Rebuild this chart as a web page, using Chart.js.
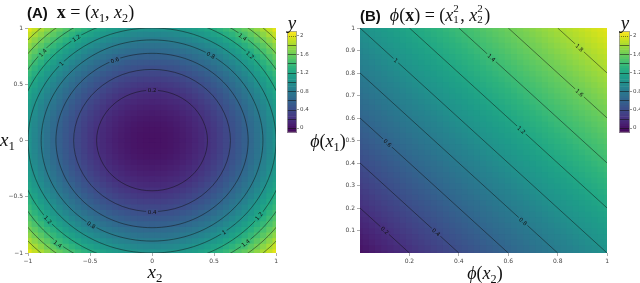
<!DOCTYPE html>
<html>
<head>
<meta charset="utf-8">
<script src="https://cdn.jsdelivr.net/npm/chart.js@4.4.1/dist/chart.umd.min.js"></script>
<style>
body { margin: 0; background: #fff; }
#wrap { position: relative; width: 640px; height: 283px; overflow: hidden; }
canvas { position: absolute; top: 0; }
.lbl { position: absolute; white-space: nowrap; font-family: 'Liberation Serif', 'DejaVu Serif', serif; line-height: 1; color: #111; }
.lbl i { font-style: italic; }
.lbl .s { font-size: 0.68em; position: relative; top: 0.3em; }
.lbl .ss { display: inline-block; position: relative; width: 7px; height: 1em; }
.lbl .ss span { position: absolute; left: 0; font-size: 11px; line-height: 1; }
.lbl .ss .u { top: 0px; }
.lbl .ss .d { top: 11px; }
.lbl .pan { font-family: 'Liberation Sans', sans-serif; font-weight: bold; font-size: 15px; }
.c { transform: translate(-50%, -50%); }
</style>
</head>
<body>
<div id="wrap">
  <canvas id="heatA" width="280" height="283" style="left:0"></canvas>
  <canvas id="barA" width="40" height="137" style="left:287px"></canvas>
  <canvas id="heatB" width="281" height="283" style="left:330px"></canvas>
  <canvas id="barB" width="21" height="137" style="left:619px"></canvas>

  <div class="lbl" style="left:27px;top:3px;font-size:18px"><span class="pan">(A)</span>&nbsp; <b>x</b> = (<i>x</i><span class="s">1</span>, <i>x</i><span class="s">2</span>)</div>
  <div class="lbl" style="left:360px;top:3px;font-size:18px"><span class="pan">(B)</span>&nbsp; <i>ϕ</i>(<b>x</b>) = (<i>x</i><span class="ss"><span class="u">2</span><span class="d">1</span></span>, <i>x</i><span class="ss"><span class="u">2</span><span class="d">2</span></span>)</div>
  <div class="lbl c" style="left:155px;top:271px;font-size:19px"><i>x</i><span class="s">2</span></div>
  <div class="lbl" style="left:0px;top:130px;font-size:19px"><i>x</i><span class="s">1</span></div>
  <div class="lbl c" style="left:485px;top:273px;font-size:18px"><i>ϕ</i>(<i>x</i><span class="s">2</span>)</div>
  <div class="lbl c" style="left:328px;top:141px;font-size:18px"><i>ϕ</i>(<i>x</i><span class="s">1</span>)</div>
  <div class="lbl c" style="left:292px;top:22px;font-size:19px"><i>y</i></div>
  <div class="lbl c" style="left:625px;top:22px;font-size:19px"><i>y</i></div>
</div>
<script>
// ---- data ----

// panel A: one quadrant of the grid, |x1| by row, |x2| by column (mirrored to the other three)
const gridA = [0, 0.05, 0.1, 0.15, 0.2, 0.25, 0.3, 0.35, 0.4, 0.45, 0.5, 0.55, 0.6, 0.65, 0.7, 0.75, 0.8, 0.85, 0.9, 0.95, 1];
const quadA = [
  [0, .0025, .01, .0225, .04, .0625, .09, .1225, .16, .2025, .25, .3025, .36, .4225, .49, .5625, .64, .7225, .81, .9025, 1],
  [.0025, .005, .0125, .025, .0425, .065, .0925, .125, .1625, .205, .2525, .305, .3625, .425, .4925, .565, .6425, .725, .8125, .905, 1.0025],
  [.01, .0125, .02, .0325, .05, .0725, .1, .1325, .17, .2125, .26, .3125, .37, .4325, .5, .5725, .65, .7325, .82, .9125, 1.01],
  [.0225, .025, .0325, .045, .0625, .085, .1125, .145, .1825, .225, .2725, .325, .3825, .445, .5125, .585, .6625, .745, .8325, .925, 1.0225],
  [.04, .0425, .05, .0625, .08, .1025, .13, .1625, .2, .2425, .29, .3425, .4, .4625, .53, .6025, .68, .7625, .85, .9425, 1.04],
  [.0625, .065, .0725, .085, .1025, .125, .1525, .185, .2225, .265, .3125, .365, .4225, .485, .5525, .625, .7025, .785, .8725, .965, 1.0625],
  [.09, .0925, .1, .1125, .13, .1525, .18, .2125, .25, .2925, .34, .3925, .45, .5125, .58, .6525, .73, .8125, .9, .9925, 1.09],
  [.1225, .125, .1325, .145, .1625, .185, .2125, .245, .2825, .325, .3725, .425, .4825, .545, .6125, .685, .7625, .845, .9325, 1.025, 1.1225],
  [.16, .1625, .17, .1825, .2, .2225, .25, .2825, .32, .3625, .41, .4625, .52, .5825, .65, .7225, .8, .8825, .97, 1.0625, 1.16],
  [.2025, .205, .2125, .225, .2425, .265, .2925, .325, .3625, .405, .4525, .505, .5625, .625, .6925, .765, .8425, .925, 1.0125, 1.105, 1.2025],
  [.25, .2525, .26, .2725, .29, .3125, .34, .3725, .41, .4525, .5, .5525, .61, .6725, .74, .8125, .89, .9725, 1.06, 1.1525, 1.25],
  [.3025, .305, .3125, .325, .3425, .365, .3925, .425, .4625, .505, .5525, .605, .6625, .725, .7925, .865, .9425, 1.025, 1.1125, 1.205, 1.3025],
  [.36, .3625, .37, .3825, .4, .4225, .45, .4825, .52, .5625, .61, .6625, .72, .7825, .85, .9225, 1, 1.0825, 1.17, 1.2625, 1.36],
  [.4225, .425, .4325, .445, .4625, .485, .5125, .545, .5825, .625, .6725, .725, .7825, .845, .9125, .985, 1.0625, 1.145, 1.2325, 1.325, 1.4225],
  [.49, .4925, .5, .5125, .53, .5525, .58, .6125, .65, .6925, .74, .7925, .85, .9125, .98, 1.0525, 1.13, 1.2125, 1.3, 1.3925, 1.49],
  [.5625, .565, .5725, .585, .6025, .625, .6525, .685, .7225, .765, .8125, .865, .9225, .985, 1.0525, 1.125, 1.2025, 1.285, 1.3725, 1.465, 1.5625],
  [.64, .6425, .65, .6625, .68, .7025, .73, .7625, .8, .8425, .89, .9425, 1, 1.0625, 1.13, 1.2025, 1.28, 1.3625, 1.45, 1.5425, 1.64],
  [.7225, .725, .7325, .745, .7625, .785, .8125, .845, .8825, .925, .9725, 1.025, 1.0825, 1.145, 1.2125, 1.285, 1.3625, 1.445, 1.5325, 1.625, 1.7225],
  [.81, .8125, .82, .8325, .85, .8725, .9, .9325, .97, 1.0125, 1.06, 1.1125, 1.17, 1.2325, 1.3, 1.3725, 1.45, 1.5325, 1.62, 1.7125, 1.81],
  [.9025, .905, .9125, .925, .9425, .965, .9925, 1.025, 1.0625, 1.105, 1.1525, 1.205, 1.2625, 1.325, 1.3925, 1.465, 1.5425, 1.625, 1.7125, 1.805, 1.9025],
  [1, 1.0025, 1.01, 1.0225, 1.04, 1.0625, 1.09, 1.1225, 1.16, 1.2025, 1.25, 1.3025, 1.36, 1.4225, 1.49, 1.5625, 1.64, 1.7225, 1.81, 1.9025, 2]
];

// panel B: rows are phi(x1), columns are phi(x2)
const gridB = [0, .025, .05, .075, .1, .125, .15, .175, .2, .225, .25, .275, .3, .325, .35, .375, .4, .425, .45, .475, .5,
  .525, .55, .575, .6, .625, .65, .675, .7, .725, .75, .775, .8, .825, .85, .875, .9, .925, .95, .975, 1];
const valuesB = [
  [0, .025, .05, .075, .1, .125, .15, .175, .2, .225, .25, .275, .3, .325, .35, .375, .4, .425, .45, .475, .5, .525, .55, .575, .6, .625, .65, .675, .7, .725, .75, .775, .8, .825, .85, .875, .9, .925, .95, .975, 1],
  [.025, .05, .075, .1, .125, .15, .175, .2, .225, .25, .275, .3, .325, .35, .375, .4, .425, .45, .475, .5, .525, .55, .575, .6, .625, .65, .675, .7, .725, .75, .775, .8, .825, .85, .875, .9, .925, .95, .975, 1, 1.025],
  [.05, .075, .1, .125, .15, .175, .2, .225, .25, .275, .3, .325, .35, .375, .4, .425, .45, .475, .5, .525, .55, .575, .6, .625, .65, .675, .7, .725, .75, .775, .8, .825, .85, .875, .9, .925, .95, .975, 1, 1.025, 1.05],
  [.075, .1, .125, .15, .175, .2, .225, .25, .275, .3, .325, .35, .375, .4, .425, .45, .475, .5, .525, .55, .575, .6, .625, .65, .675, .7, .725, .75, .775, .8, .825, .85, .875, .9, .925, .95, .975, 1, 1.025, 1.05, 1.075],
  [.1, .125, .15, .175, .2, .225, .25, .275, .3, .325, .35, .375, .4, .425, .45, .475, .5, .525, .55, .575, .6, .625, .65, .675, .7, .725, .75, .775, .8, .825, .85, .875, .9, .925, .95, .975, 1, 1.025, 1.05, 1.075, 1.1],
  [.125, .15, .175, .2, .225, .25, .275, .3, .325, .35, .375, .4, .425, .45, .475, .5, .525, .55, .575, .6, .625, .65, .675, .7, .725, .75, .775, .8, .825, .85, .875, .9, .925, .95, .975, 1, 1.025, 1.05, 1.075, 1.1, 1.125],
  [.15, .175, .2, .225, .25, .275, .3, .325, .35, .375, .4, .425, .45, .475, .5, .525, .55, .575, .6, .625, .65, .675, .7, .725, .75, .775, .8, .825, .85, .875, .9, .925, .95, .975, 1, 1.025, 1.05, 1.075, 1.1, 1.125, 1.15],
  [.175, .2, .225, .25, .275, .3, .325, .35, .375, .4, .425, .45, .475, .5, .525, .55, .575, .6, .625, .65, .675, .7, .725, .75, .775, .8, .825, .85, .875, .9, .925, .95, .975, 1, 1.025, 1.05, 1.075, 1.1, 1.125, 1.15, 1.175],
  [.2, .225, .25, .275, .3, .325, .35, .375, .4, .425, .45, .475, .5, .525, .55, .575, .6, .625, .65, .675, .7, .725, .75, .775, .8, .825, .85, .875, .9, .925, .95, .975, 1, 1.025, 1.05, 1.075, 1.1, 1.125, 1.15, 1.175, 1.2],
  [.225, .25, .275, .3, .325, .35, .375, .4, .425, .45, .475, .5, .525, .55, .575, .6, .625, .65, .675, .7, .725, .75, .775, .8, .825, .85, .875, .9, .925, .95, .975, 1, 1.025, 1.05, 1.075, 1.1, 1.125, 1.15, 1.175, 1.2, 1.225],
  [.25, .275, .3, .325, .35, .375, .4, .425, .45, .475, .5, .525, .55, .575, .6, .625, .65, .675, .7, .725, .75, .775, .8, .825, .85, .875, .9, .925, .95, .975, 1, 1.025, 1.05, 1.075, 1.1, 1.125, 1.15, 1.175, 1.2, 1.225, 1.25],
  [.275, .3, .325, .35, .375, .4, .425, .45, .475, .5, .525, .55, .575, .6, .625, .65, .675, .7, .725, .75, .775, .8, .825, .85, .875, .9, .925, .95, .975, 1, 1.025, 1.05, 1.075, 1.1, 1.125, 1.15, 1.175, 1.2, 1.225, 1.25, 1.275],
  [.3, .325, .35, .375, .4, .425, .45, .475, .5, .525, .55, .575, .6, .625, .65, .675, .7, .725, .75, .775, .8, .825, .85, .875, .9, .925, .95, .975, 1, 1.025, 1.05, 1.075, 1.1, 1.125, 1.15, 1.175, 1.2, 1.225, 1.25, 1.275, 1.3],
  [.325, .35, .375, .4, .425, .45, .475, .5, .525, .55, .575, .6, .625, .65, .675, .7, .725, .75, .775, .8, .825, .85, .875, .9, .925, .95, .975, 1, 1.025, 1.05, 1.075, 1.1, 1.125, 1.15, 1.175, 1.2, 1.225, 1.25, 1.275, 1.3, 1.325],
  [.35, .375, .4, .425, .45, .475, .5, .525, .55, .575, .6, .625, .65, .675, .7, .725, .75, .775, .8, .825, .85, .875, .9, .925, .95, .975, 1, 1.025, 1.05, 1.075, 1.1, 1.125, 1.15, 1.175, 1.2, 1.225, 1.25, 1.275, 1.3, 1.325, 1.35],
  [.375, .4, .425, .45, .475, .5, .525, .55, .575, .6, .625, .65, .675, .7, .725, .75, .775, .8, .825, .85, .875, .9, .925, .95, .975, 1, 1.025, 1.05, 1.075, 1.1, 1.125, 1.15, 1.175, 1.2, 1.225, 1.25, 1.275, 1.3, 1.325, 1.35, 1.375],
  [.4, .425, .45, .475, .5, .525, .55, .575, .6, .625, .65, .675, .7, .725, .75, .775, .8, .825, .85, .875, .9, .925, .95, .975, 1, 1.025, 1.05, 1.075, 1.1, 1.125, 1.15, 1.175, 1.2, 1.225, 1.25, 1.275, 1.3, 1.325, 1.35, 1.375, 1.4],
  [.425, .45, .475, .5, .525, .55, .575, .6, .625, .65, .675, .7, .725, .75, .775, .8, .825, .85, .875, .9, .925, .95, .975, 1, 1.025, 1.05, 1.075, 1.1, 1.125, 1.15, 1.175, 1.2, 1.225, 1.25, 1.275, 1.3, 1.325, 1.35, 1.375, 1.4, 1.425],
  [.45, .475, .5, .525, .55, .575, .6, .625, .65, .675, .7, .725, .75, .775, .8, .825, .85, .875, .9, .925, .95, .975, 1, 1.025, 1.05, 1.075, 1.1, 1.125, 1.15, 1.175, 1.2, 1.225, 1.25, 1.275, 1.3, 1.325, 1.35, 1.375, 1.4, 1.425, 1.45],
  [.475, .5, .525, .55, .575, .6, .625, .65, .675, .7, .725, .75, .775, .8, .825, .85, .875, .9, .925, .95, .975, 1, 1.025, 1.05, 1.075, 1.1, 1.125, 1.15, 1.175, 1.2, 1.225, 1.25, 1.275, 1.3, 1.325, 1.35, 1.375, 1.4, 1.425, 1.45, 1.475],
  [.5, .525, .55, .575, .6, .625, .65, .675, .7, .725, .75, .775, .8, .825, .85, .875, .9, .925, .95, .975, 1, 1.025, 1.05, 1.075, 1.1, 1.125, 1.15, 1.175, 1.2, 1.225, 1.25, 1.275, 1.3, 1.325, 1.35, 1.375, 1.4, 1.425, 1.45, 1.475, 1.5],
  [.525, .55, .575, .6, .625, .65, .675, .7, .725, .75, .775, .8, .825, .85, .875, .9, .925, .95, .975, 1, 1.025, 1.05, 1.075, 1.1, 1.125, 1.15, 1.175, 1.2, 1.225, 1.25, 1.275, 1.3, 1.325, 1.35, 1.375, 1.4, 1.425, 1.45, 1.475, 1.5, 1.525],
  [.55, .575, .6, .625, .65, .675, .7, .725, .75, .775, .8, .825, .85, .875, .9, .925, .95, .975, 1, 1.025, 1.05, 1.075, 1.1, 1.125, 1.15, 1.175, 1.2, 1.225, 1.25, 1.275, 1.3, 1.325, 1.35, 1.375, 1.4, 1.425, 1.45, 1.475, 1.5, 1.525, 1.55],
  [.575, .6, .625, .65, .675, .7, .725, .75, .775, .8, .825, .85, .875, .9, .925, .95, .975, 1, 1.025, 1.05, 1.075, 1.1, 1.125, 1.15, 1.175, 1.2, 1.225, 1.25, 1.275, 1.3, 1.325, 1.35, 1.375, 1.4, 1.425, 1.45, 1.475, 1.5, 1.525, 1.55, 1.575],
  [.6, .625, .65, .675, .7, .725, .75, .775, .8, .825, .85, .875, .9, .925, .95, .975, 1, 1.025, 1.05, 1.075, 1.1, 1.125, 1.15, 1.175, 1.2, 1.225, 1.25, 1.275, 1.3, 1.325, 1.35, 1.375, 1.4, 1.425, 1.45, 1.475, 1.5, 1.525, 1.55, 1.575, 1.6],
  [.625, .65, .675, .7, .725, .75, .775, .8, .825, .85, .875, .9, .925, .95, .975, 1, 1.025, 1.05, 1.075, 1.1, 1.125, 1.15, 1.175, 1.2, 1.225, 1.25, 1.275, 1.3, 1.325, 1.35, 1.375, 1.4, 1.425, 1.45, 1.475, 1.5, 1.525, 1.55, 1.575, 1.6, 1.625],
  [.65, .675, .7, .725, .75, .775, .8, .825, .85, .875, .9, .925, .95, .975, 1, 1.025, 1.05, 1.075, 1.1, 1.125, 1.15, 1.175, 1.2, 1.225, 1.25, 1.275, 1.3, 1.325, 1.35, 1.375, 1.4, 1.425, 1.45, 1.475, 1.5, 1.525, 1.55, 1.575, 1.6, 1.625, 1.65],
  [.675, .7, .725, .75, .775, .8, .825, .85, .875, .9, .925, .95, .975, 1, 1.025, 1.05, 1.075, 1.1, 1.125, 1.15, 1.175, 1.2, 1.225, 1.25, 1.275, 1.3, 1.325, 1.35, 1.375, 1.4, 1.425, 1.45, 1.475, 1.5, 1.525, 1.55, 1.575, 1.6, 1.625, 1.65, 1.675],
  [.7, .725, .75, .775, .8, .825, .85, .875, .9, .925, .95, .975, 1, 1.025, 1.05, 1.075, 1.1, 1.125, 1.15, 1.175, 1.2, 1.225, 1.25, 1.275, 1.3, 1.325, 1.35, 1.375, 1.4, 1.425, 1.45, 1.475, 1.5, 1.525, 1.55, 1.575, 1.6, 1.625, 1.65, 1.675, 1.7],
  [.725, .75, .775, .8, .825, .85, .875, .9, .925, .95, .975, 1, 1.025, 1.05, 1.075, 1.1, 1.125, 1.15, 1.175, 1.2, 1.225, 1.25, 1.275, 1.3, 1.325, 1.35, 1.375, 1.4, 1.425, 1.45, 1.475, 1.5, 1.525, 1.55, 1.575, 1.6, 1.625, 1.65, 1.675, 1.7, 1.725],
  [.75, .775, .8, .825, .85, .875, .9, .925, .95, .975, 1, 1.025, 1.05, 1.075, 1.1, 1.125, 1.15, 1.175, 1.2, 1.225, 1.25, 1.275, 1.3, 1.325, 1.35, 1.375, 1.4, 1.425, 1.45, 1.475, 1.5, 1.525, 1.55, 1.575, 1.6, 1.625, 1.65, 1.675, 1.7, 1.725, 1.75],
  [.775, .8, .825, .85, .875, .9, .925, .95, .975, 1, 1.025, 1.05, 1.075, 1.1, 1.125, 1.15, 1.175, 1.2, 1.225, 1.25, 1.275, 1.3, 1.325, 1.35, 1.375, 1.4, 1.425, 1.45, 1.475, 1.5, 1.525, 1.55, 1.575, 1.6, 1.625, 1.65, 1.675, 1.7, 1.725, 1.75, 1.775],
  [.8, .825, .85, .875, .9, .925, .95, .975, 1, 1.025, 1.05, 1.075, 1.1, 1.125, 1.15, 1.175, 1.2, 1.225, 1.25, 1.275, 1.3, 1.325, 1.35, 1.375, 1.4, 1.425, 1.45, 1.475, 1.5, 1.525, 1.55, 1.575, 1.6, 1.625, 1.65, 1.675, 1.7, 1.725, 1.75, 1.775, 1.8],
  [.825, .85, .875, .9, .925, .95, .975, 1, 1.025, 1.05, 1.075, 1.1, 1.125, 1.15, 1.175, 1.2, 1.225, 1.25, 1.275, 1.3, 1.325, 1.35, 1.375, 1.4, 1.425, 1.45, 1.475, 1.5, 1.525, 1.55, 1.575, 1.6, 1.625, 1.65, 1.675, 1.7, 1.725, 1.75, 1.775, 1.8, 1.825],
  [.85, .875, .9, .925, .95, .975, 1, 1.025, 1.05, 1.075, 1.1, 1.125, 1.15, 1.175, 1.2, 1.225, 1.25, 1.275, 1.3, 1.325, 1.35, 1.375, 1.4, 1.425, 1.45, 1.475, 1.5, 1.525, 1.55, 1.575, 1.6, 1.625, 1.65, 1.675, 1.7, 1.725, 1.75, 1.775, 1.8, 1.825, 1.85],
  [.875, .9, .925, .95, .975, 1, 1.025, 1.05, 1.075, 1.1, 1.125, 1.15, 1.175, 1.2, 1.225, 1.25, 1.275, 1.3, 1.325, 1.35, 1.375, 1.4, 1.425, 1.45, 1.475, 1.5, 1.525, 1.55, 1.575, 1.6, 1.625, 1.65, 1.675, 1.7, 1.725, 1.75, 1.775, 1.8, 1.825, 1.85, 1.875],
  [.9, .925, .95, .975, 1, 1.025, 1.05, 1.075, 1.1, 1.125, 1.15, 1.175, 1.2, 1.225, 1.25, 1.275, 1.3, 1.325, 1.35, 1.375, 1.4, 1.425, 1.45, 1.475, 1.5, 1.525, 1.55, 1.575, 1.6, 1.625, 1.65, 1.675, 1.7, 1.725, 1.75, 1.775, 1.8, 1.825, 1.85, 1.875, 1.9],
  [.925, .95, .975, 1, 1.025, 1.05, 1.075, 1.1, 1.125, 1.15, 1.175, 1.2, 1.225, 1.25, 1.275, 1.3, 1.325, 1.35, 1.375, 1.4, 1.425, 1.45, 1.475, 1.5, 1.525, 1.55, 1.575, 1.6, 1.625, 1.65, 1.675, 1.7, 1.725, 1.75, 1.775, 1.8, 1.825, 1.85, 1.875, 1.9, 1.925],
  [.95, .975, 1, 1.025, 1.05, 1.075, 1.1, 1.125, 1.15, 1.175, 1.2, 1.225, 1.25, 1.275, 1.3, 1.325, 1.35, 1.375, 1.4, 1.425, 1.45, 1.475, 1.5, 1.525, 1.55, 1.575, 1.6, 1.625, 1.65, 1.675, 1.7, 1.725, 1.75, 1.775, 1.8, 1.825, 1.85, 1.875, 1.9, 1.925, 1.95],
  [.975, 1, 1.025, 1.05, 1.075, 1.1, 1.125, 1.15, 1.175, 1.2, 1.225, 1.25, 1.275, 1.3, 1.325, 1.35, 1.375, 1.4, 1.425, 1.45, 1.475, 1.5, 1.525, 1.55, 1.575, 1.6, 1.625, 1.65, 1.675, 1.7, 1.725, 1.75, 1.775, 1.8, 1.825, 1.85, 1.875, 1.9, 1.925, 1.95, 1.975],
  [1, 1.025, 1.05, 1.075, 1.1, 1.125, 1.15, 1.175, 1.2, 1.225, 1.25, 1.275, 1.3, 1.325, 1.35, 1.375, 1.4, 1.425, 1.45, 1.475, 1.5, 1.525, 1.55, 1.575, 1.6, 1.625, 1.65, 1.675, 1.7, 1.725, 1.75, 1.775, 1.8, 1.825, 1.85, 1.875, 1.9, 1.925, 1.95, 1.975, 2]
];

// contour rings of panel A, 8 points per level (x2, x1)
const contourLevels = [0.2, 0.4, 0.6, 0.8, 1, 1.2, 1.4, 1.6, 1.8];
const contourA = [
  [[.447, 0], [.316, .316], [0, .447], [-.316, .316], [-.447, 0], [-.316, -.316], [0, -.447], [.316, -.316]],
  [[.632, 0], [.447, .447], [0, .632], [-.447, .447], [-.632, 0], [-.447, -.447], [0, -.632], [.447, -.447]],
  [[.775, 0], [.548, .548], [0, .775], [-.548, .548], [-.775, 0], [-.548, -.548], [0, -.775], [.548, -.548]],
  [[.894, 0], [.632, .632], [0, .894], [-.632, .632], [-.894, 0], [-.632, -.632], [0, -.894], [.632, -.632]],
  [[1, 0], [.707, .707], [0, 1], [-.707, .707], [-1, 0], [-.707, -.707], [0, -1], [.707, -.707]],
  [[1.095, 0], [.775, .775], [0, 1.095], [-.775, .775], [-1.095, 0], [-.775, -.775], [0, -1.095], [.775, -.775]],
  [[1.183, 0], [.837, .837], [0, 1.183], [-.837, .837], [-1.183, 0], [-.837, -.837], [0, -1.183], [.837, -.837]],
  [[1.265, 0], [.894, .894], [0, 1.265], [-.894, .894], [-1.265, 0], [-.894, -.894], [0, -1.265], [.894, -.894]],
  [[1.342, 0], [.949, .949], [0, 1.342], [-.949, .949], [-1.342, 0], [-.949, -.949], [0, -1.342], [.949, -.949]]
];
// contour lines of panel B, end points (phi(x2), phi(x1))
const contourB = [
  [[0, .2], [.2, 0]], [[0, .4], [.4, 0]], [[0, .6], [.6, 0]], [[0, .8], [.8, 0]], [[0, 1], [1, 0]],
  [[.2, 1], [1, .2]], [[.4, 1], [1, .4]], [[.6, 1], [1, .6]], [[.8, 1], [1, .8]]
];

// inline contour labels
const labelsA = [
  { level: 0.2, x: 0, y: 0.447 }, { level: 1.2, x: -0.61, y: 0.91 }, { level: 1.4, x: -0.88, y: 0.78 },
  { level: 1, x: -0.73, y: 0.684 }, { level: 0.6, x: -0.3, y: 0.714 }, { level: 1.4, x: 0.73, y: 0.92 },
  { level: 0.8, x: 0.474, y: 0.758 }, { level: 1.2, x: 0.79, y: 0.76 }, { level: 1.2, x: -0.84, y: -0.704 },
  { level: 1.4, x: -0.76, y: -0.92 }, { level: 0.8, x: -0.49, y: -0.75 }, { level: 0.4, x: 0, y: -0.632 },
  { level: 1, x: 0.58, y: -0.815 }, { level: 1.2, x: 0.862, y: -0.672 }, { level: 1.4, x: 0.755, y: -0.912 }
];
const labelsB = [
  { level: 1, x: 0.145, y: 0.855 }, { level: 1.4, x: 0.532, y: 0.868 }, { level: 1.8, x: 0.888, y: 0.912 },
  { level: 1.6, x: 0.888, y: 0.712 }, { level: 1.2, x: 0.653, y: 0.547 }, { level: 0.6, x: 0.111, y: 0.489 },
  { level: 0.2, x: 0.1, y: 0.1 }, { level: 0.4, x: 0.308, y: 0.092 }, { level: 0.8, x: 0.66, y: 0.14 }
];

// axes and colour bar
const ticksA = [-1, -0.5, 0, 0.5, 1];
const ticksBX = [0.2, 0.4, 0.6, 0.8, 1];
const ticksBY = [0.1, 0.2, 0.3, 0.4, 0.5, 0.6, 0.7, 0.8, 0.9, 1];
const colorbarTicks = [0, 0.4, 0.8, 1.2, 1.6, 2];
const colorbarEdges = [-0.1, -0.05, 0, 0.05, 0.1, 0.15, 0.2, 0.25, 0.3, 0.35, 0.4, 0.45, 0.5, 0.55, 0.6, 0.65, 0.7, 0.75, 0.8, 0.85,
  0.9, 0.95, 1, 1.05, 1.1, 1.15, 1.2, 1.25, 1.3, 1.35, 1.4, 1.45, 1.5, 1.55, 1.6, 1.65, 1.7, 1.75, 1.8, 1.85, 1.9, 1.95, 2, 2.05, 2.1];
const colorbarLines = [0, 0.2, 0.4, 0.6, 0.8, 1, 1.2, 1.4, 1.6, 1.8];
const colorbarTopLine = 2;

// ---- colours ----
const vmin = -0.1, vmax = 2.1;
const viridis = ['#440154', '#471365', '#482475', '#463480', '#414487', '#3b528b', '#355f8d', '#2f6c8e', '#2a788e', '#25848e', '#21918c',
  '#1e9c89', '#22a884', '#2fb47c', '#44bf70', '#5ec962', '#7ad151', '#9bd93c', '#bddf26', '#dfe318', '#fde725'];
const lineColor = 'rgba(15,15,15,0.6)';
const tickFont = { family: 'DejaVu Sans', size: 6 };

function hexRgb(h) {
  return [parseInt(h.slice(1, 3), 16), parseInt(h.slice(3, 5), 16), parseInt(h.slice(5, 7), 16)];
}
function colorFor(v) {
  let t = Math.min(1, Math.max(0, (v - vmin) / (vmax - vmin))) * (viridis.length - 1);
  const i = Math.min(Math.floor(t), viridis.length - 2), f = t - i;
  const a = hexRgb(viridis[i]), b = hexRgb(viridis[i + 1]);
  return 'rgb(' + a.map((c, k) => Math.round(c + (b[k] - c) * f)).join(',') + ')';
}

// ---- build the cell tables ----
const cellsA = [];
quadA.forEach((row, i) => row.forEach((v, j) => {
  [1, -1].forEach(sy => [1, -1].forEach(sx => {
    cellsA.push({ x: sx * gridA[j], y: sy * gridA[i], v: v });
  }));
}));
const cellsB = [];
valuesB.forEach((row, i) => row.forEach((v, j) => cellsB.push({ x: gridB[j], y: gridB[i], v: v })));

function cellRadius(chart, step) {
  const sx = chart.scales.x, sy = chart.scales.y;
  const w = Math.abs(sx.getPixelForValue(step) - sx.getPixelForValue(0));
  const h = Math.abs(sy.getPixelForValue(step) - sy.getPixelForValue(0));
  return (Math.max(w, h) + 1) / Math.SQRT2;
}

function heatDataset(cells, step) {
  return {
    data: cells, order: 2, clip: 0,
    pointStyle: 'rect', pointBorderWidth: 0,
    pointBackgroundColor: c => colorFor(c.raw.v),
    pointRadius: c => cellRadius(c.chart, step)
  };
}

function lineDataset(pts, closed) {
  const data = (closed ? [pts[pts.length - 1], ...pts, pts[0], pts[1]] : pts).map(p => ({ x: p[0], y: p[1] }));
  const last = data.length - 1;
  return {
    data: data, order: 1, clip: 0, showLine: true, pointRadius: 0,
    tension: closed ? 0.375 : 0, borderColor: lineColor, borderWidth: 0.8,
    segment: closed ? { borderColor: s => (s.p0DataIndex === 0 || s.p1DataIndex === last) ? 'rgba(0,0,0,0)' : lineColor } : undefined
  };
}

function axis(min, max, ticks, size, isY) {
  return {
    type: 'linear', min: min, max: max,
    afterBuildTicks: s => { s.ticks = ticks.map(v => ({ value: v })); },
    afterFit: s => { if (isY) s.width = size; else s.height = size; },
    ticks: { font: tickFont, color: '#444', padding: 2, maxRotation: 0, autoSkip: false,
      callback: v => String(v).replace('-', '\u2212') },
    grid: { drawOnChartArea: false, tickLength: 3, color: '#777', lineWidth: 0.6 },
    border: { display: false }
  };
}

function labelPlugin(labels, tangent) {
  return {
    id: 'contourLabels',
    afterDatasetsDraw(chart) {
      const { ctx, scales: { x, y } } = chart;
      const kx = x.getPixelForValue(1) - x.getPixelForValue(0);
      const ky = y.getPixelForValue(1) - y.getPixelForValue(0);
      ctx.save();
      ctx.font = '5.5px "DejaVu Sans"';
      ctx.textAlign = 'center';
      ctx.textBaseline = 'middle';
      labels.forEach(l => {
        const t = tangent(l.x, l.y);
        let a = Math.atan2(t[1] * ky, t[0] * kx);
        if (a > Math.PI / 2) a -= Math.PI;
        if (a < -Math.PI / 2) a += Math.PI;
        const text = String(l.level);
        ctx.save();
        ctx.translate(x.getPixelForValue(l.x), y.getPixelForValue(l.y));
        ctx.rotate(a);
        const w = ctx.measureText(text).width + 3;
        ctx.fillStyle = colorFor(l.level);
        ctx.fillRect(-w / 2, -3, w, 6);
        ctx.fillStyle = '#111';
        ctx.fillText(text, 0, 0.5);
        ctx.restore();
      });
      ctx.restore();
    }
  };
}

function heatChart(id, datasets, xAxis, yAxis, labels, tangent) {
  return new Chart(document.getElementById(id), {
    type: 'scatter',
    data: { datasets: datasets },
    options: {
      responsive: false, animation: false, events: [],
      layout: { padding: { top: 28, right: 1, left: 0, bottom: 0 } },
      elements: { line: { capBezierPoints: false } },
      plugins: { legend: { display: false }, tooltip: { enabled: false } },
      scales: { x: xAxis, y: yAxis }
    },
    plugins: [labelPlugin(labels, tangent)]
  });
}

const colorbarPlugin = {
  id: 'colorbarFrame',
  afterDatasetsDraw(chart) {
    const { ctx, chartArea: a, scales: { y } } = chart;
    ctx.save();
    ctx.lineWidth = 0.8;
    ctx.strokeStyle = 'rgba(20,20,20,0.7)';
    colorbarLines.forEach(v => {
      const py = Math.round(y.getPixelForValue(v)) + 0.5;
      ctx.beginPath(); ctx.moveTo(a.left, py); ctx.lineTo(a.right, py); ctx.stroke();
    });
    ctx.setLineDash([1, 1]);
    const pt = Math.round(y.getPixelForValue(colorbarTopLine)) + 0.5;
    ctx.strokeStyle = 'rgba(60,60,20,0.8)';
    ctx.beginPath(); ctx.moveTo(a.left, pt); ctx.lineTo(a.right, pt); ctx.stroke();
    ctx.setLineDash([]);
    ctx.strokeStyle = '#999';
    ctx.strokeRect(a.left + 0.5, a.top + 0.5, a.right - a.left - 1, a.bottom - a.top - 1);
    ctx.restore();
  }
};

function colorbarChart(id, axisWidth) {
  const bands = colorbarEdges.slice(1).map((hi, k) => ({ x: 'y', y: [colorbarEdges[k], hi], v: (colorbarEdges[k] + hi) / 2 }));
  return new Chart(document.getElementById(id), {
    type: 'bar',
    data: { labels: ['y'], datasets: [{
      data: bands, borderWidth: 0, categoryPercentage: 1, barPercentage: 1,
      backgroundColor: c => colorFor(c.raw.v)
    }] },
    options: {
      responsive: false, animation: false, events: [],
      layout: { padding: { top: 31, right: 0, left: 0, bottom: 0 } },
      plugins: { legend: { display: false }, tooltip: { enabled: false } },
      scales: {
        x: { display: false },
        y: {
          position: 'right', min: vmin, max: vmax,
          afterBuildTicks: s => { s.ticks = colorbarTicks.map(v => ({ value: v })); },
          afterFit: s => { s.width = axisWidth; },
          ticks: { font: { family: 'DejaVu Sans', size: 5.5 }, color: '#444', padding: 1, callback: v => String(v) },
          grid: { drawOnChartArea: false, tickLength: 2, color: '#555', lineWidth: 0.6 },
          border: { display: false }
        }
      }
    },
    plugins: [colorbarPlugin]
  });
}

// ---- panel A ----
heatChart('heatA',
  [heatDataset(cellsA, gridA[1] - gridA[0])].concat(contourA.map(pts => lineDataset(pts, true))),
  axis(-1, 1, ticksA, 30, false), axis(-1, 1, ticksA, 28, true),
  labelsA, (x, y) => [-y, x]);
colorbarChart('barA', 30);

// ---- panel B ----
heatChart('heatB',
  [heatDataset(cellsB, gridB[1] - gridB[0])].concat(contourB.map(pts => lineDataset(pts, false))),
  axis(0, 1, ticksBX, 30, false), axis(0, 1, ticksBY, 30, true),
  labelsB, () => [1, -1]);
colorbarChart('barB', 10);
</script>
</body>
</html>
